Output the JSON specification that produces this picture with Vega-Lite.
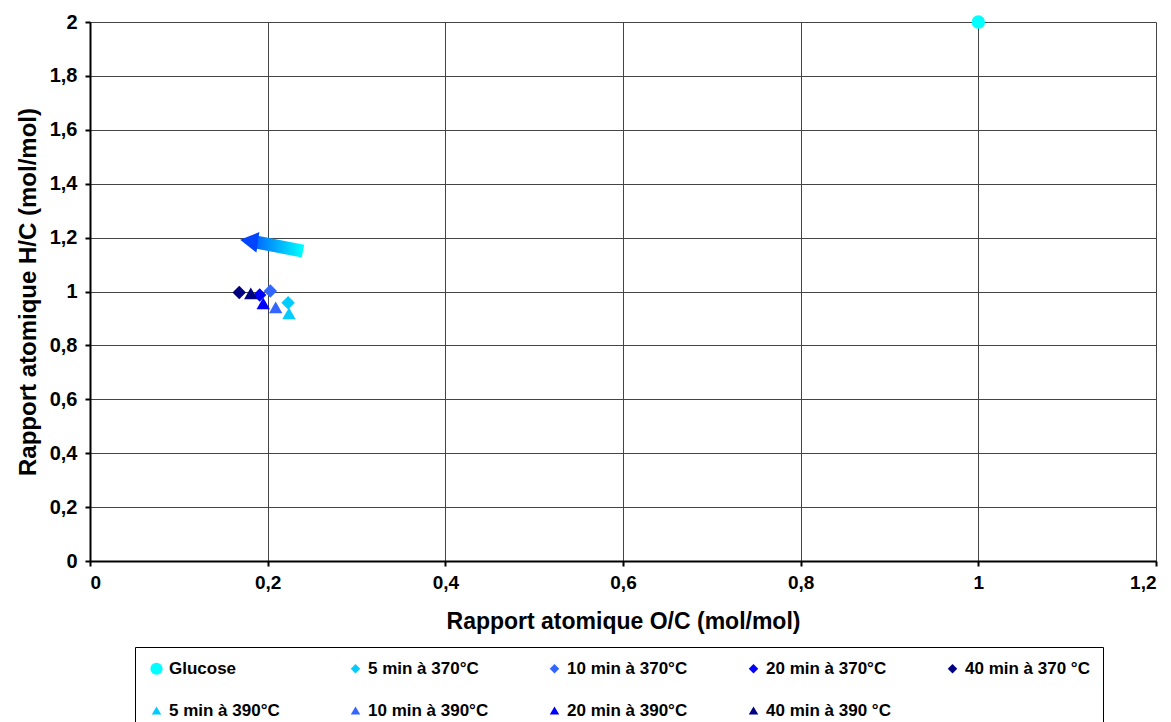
{
  "$schema": "https://vega.github.io/schema/vega-lite/v6.json",
  "autosize": {"type": "none"},
  "width": 1066,
  "height": 539,
  "padding": {"left": 90, "top": 22, "right": 15, "bottom": 161},
  "background": "white",
  "config": {
    "font": "Liberation Sans",
    "view": {"stroke": null},
    "axis": {
      "labelFont": "Liberation Sans",
      "labelFontWeight": "bold",
      "labelColor": "black",
      "titleFont": "Liberation Sans",
      "titleFontWeight": "bold",
      "titleColor": "black",
      "domainColor": "black",
      "domainWidth": 2,
      "tickColor": "black",
      "tickWidth": 2,
      "tickSize": 5,
      "grid": true,
      "gridColor": "#444444",
      "gridWidth": 1,
      "gridOpacity": 1
    },
    "legend": {
      "labelFont": "Liberation Sans",
      "labelFontWeight": "bold",
      "labelFontSize": 17,
      "labelColor": "black"
    }
  },
  "datasets": {
    "points": [
      {"series": "Glucose", "oc": 1.0, "hc": 2.0},
      {"series": "5 min à 370°C", "oc": 0.223, "hc": 0.958},
      {"series": "10 min à 370°C", "oc": 0.203, "hc": 1.002},
      {"series": "20 min à 370°C", "oc": 0.191, "hc": 0.987},
      {"series": "40 min à 370 °C", "oc": 0.168, "hc": 0.996},
      {"series": "5 min à 390°C", "oc": 0.224, "hc": 0.919},
      {"series": "10 min à 390°C", "oc": 0.209, "hc": 0.941},
      {"series": "20 min à 390°C", "oc": 0.195, "hc": 0.956},
      {"series": "40 min à 390 °C", "oc": 0.181, "hc": 0.993}
    ],
    "arrowShaft": [
      {"oc": 0.2398, "hc": 1.150, "k": 1},
      {"oc": 0.1858, "hc": 1.184, "k": 2}
    ],
    "arrowHead": [
      {"oc": 0.179, "hc": 1.187}
    ]
  },
  "encoding": {
    "x": {
      "field": "oc", "type": "quantitative",
      "scale": {"domain": [0, 1.2], "nice": false, "zero": true},
      "axis": {
        "title": "Rapport atomique O/C (mol/mol)",
        "titleFontSize": 23,
        "labelFontSize": 19,
        "values": [0, 0.2, 0.4, 0.6, 0.8, 1.0, 1.2],
        "labelExpr": "replace(format(datum.value, '~g'), '.', ',')",
        "labelPadding": 7,
        "titlePadding": 18
      }
    },
    "y": {
      "field": "hc", "type": "quantitative",
      "scale": {"domain": [0, 2], "nice": false, "zero": true},
      "axis": {
        "title": "Rapport atomique H/C (mol/mol)",
        "titleFontSize": 24,
        "labelFontSize": 20,
        "values": [0, 0.2, 0.4, 0.6, 0.8, 1.0, 1.2, 1.4, 1.6, 1.8, 2.0],
        "labelExpr": "replace(format(datum.value, '~g'), '.', ',')",
        "labelPadding": 8,
        "titlePadding": 9
      }
    }
  },
  "layer": [
    {
      "data": {"name": "arrowShaft"},
      "mark": {
        "type": "line",
        "strokeWidth": 13,
        "strokeCap": "butt",
        "clip": false,
        "stroke": {
          "gradient": "linear",
          "x1": 1, "y1": 0, "x2": 0, "y2": 0,
          "stops": [
            {"offset": 0, "color": "#00FFFF"},
            {"offset": 1, "color": "#0066FF"}
          ]
        }
      },
      "encoding": {"order": {"field": "k", "type": "quantitative"}}
    },
    {
      "data": {"name": "arrowHead"},
      "mark": {
        "type": "point",
        "shape": "triangle-left",
        "filled": true,
        "opacity": 1,
        "size": 430,
        "angle": 8,
        "color": "#0044FF"
      }
    },
    {
      "data": {"name": "points"},
      "mark": {"type": "point", "filled": true, "opacity": 1, "size": 180, "clip": false},
      "encoding": {
        "color": {
          "field": "series", "type": "nominal",
          "scale": {
            "domain": ["Glucose", "5 min à 370°C", "10 min à 370°C", "20 min à 370°C", "40 min à 370 °C", "5 min à 390°C", "10 min à 390°C", "20 min à 390°C", "40 min à 390 °C"],
            "range": ["#00FFFF", "#00CCFF", "#3366FF", "#0000FF", "#000080", "#00CCFF", "#3366FF", "#0000FF", "#000080"]
          },
          "legend": {
            "title": null,
            "orient": "none",
            "legendX": 45,
            "legendY": 625,
            "direction": "horizontal",
            "columns": 5,
            "gridAlign": "all",
            "columnPadding": 53,
            "rowPadding": 24,
            "symbolSize": 90,
            "symbolOpacity": 1,
            "labelOffset": 4,
            "padding": 13,
            "strokeColor": "black",
            "fillColor": "white",
            "encode": {
              "symbols": {
                "update": {
                  "size": {"signal": "datum.value === 'Glucose' ? 150 : 90"}
                }
              }
            }
          }
        },
        "shape": {
          "field": "series", "type": "nominal",
          "scale": {
            "domain": ["Glucose", "5 min à 370°C", "10 min à 370°C", "20 min à 370°C", "40 min à 370 °C", "5 min à 390°C", "10 min à 390°C", "20 min à 390°C", "40 min à 390 °C"],
            "range": ["circle", "diamond", "diamond", "diamond", "diamond", "triangle-up", "triangle-up", "triangle-up", "triangle-up"]
          },
          "legend": {
            "title": null,
            "orient": "none",
            "legendX": 45,
            "legendY": 625,
            "direction": "horizontal",
            "columns": 5,
            "gridAlign": "all",
            "columnPadding": 53,
            "rowPadding": 24,
            "symbolSize": 90,
            "symbolOpacity": 1,
            "labelOffset": 4,
            "padding": 13,
            "strokeColor": "black",
            "fillColor": "white",
            "encode": {
              "symbols": {
                "update": {
                  "size": {"signal": "datum.value === 'Glucose' ? 150 : 90"}
                }
              }
            }
          }
        }
      }
    }
  ]
}
